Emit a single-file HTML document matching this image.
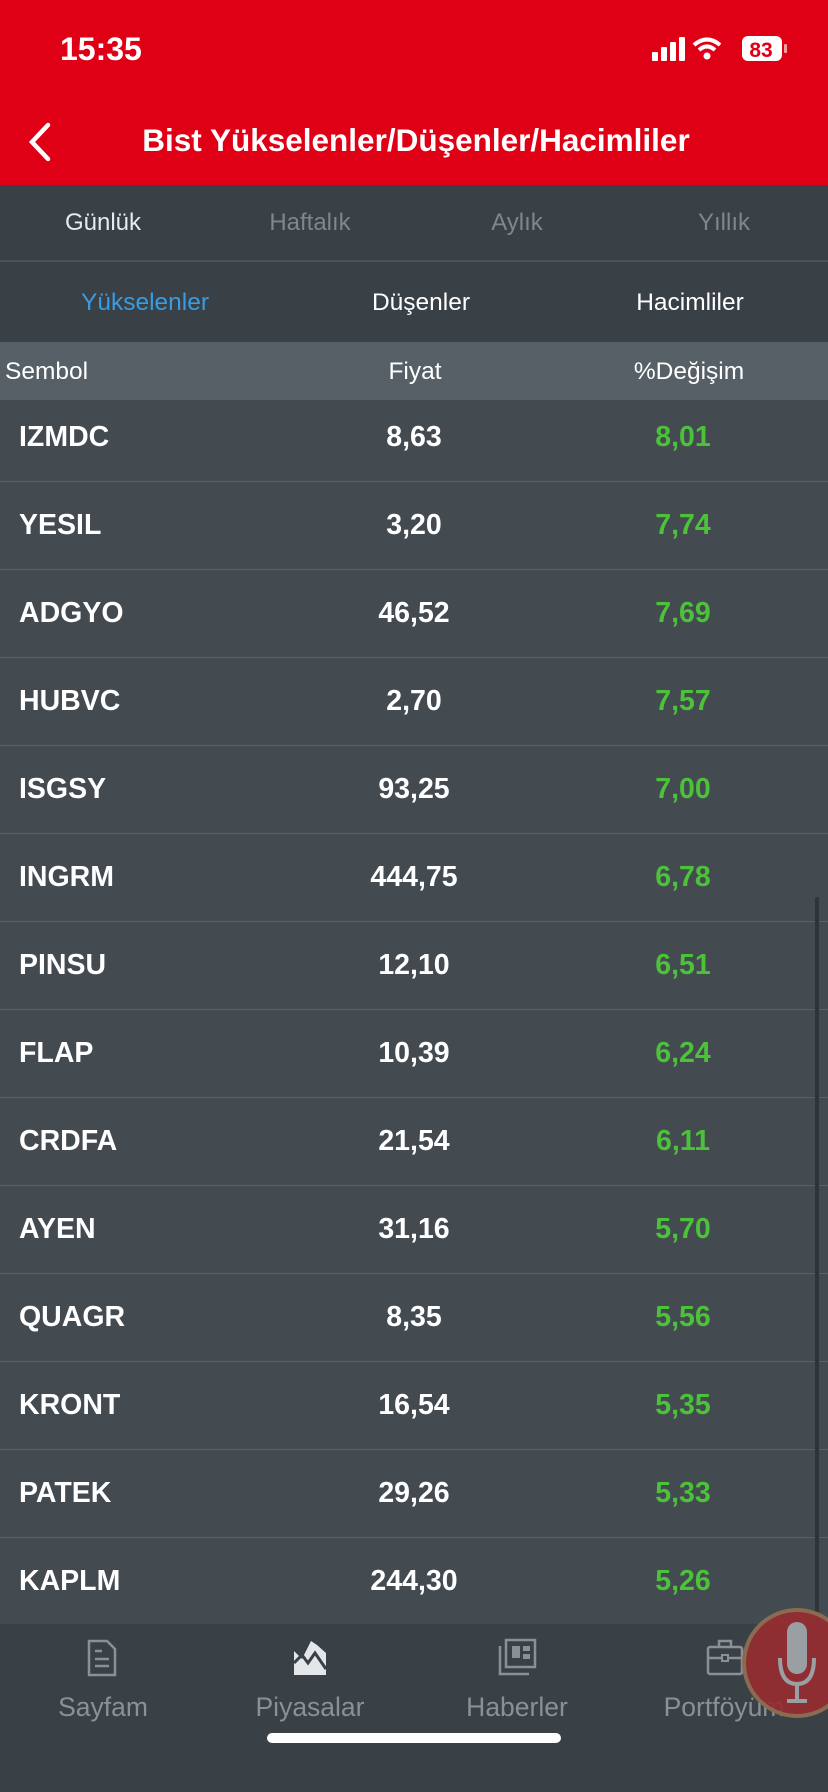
<!DOCTYPE html>
<html><head><meta charset="utf-8"><style>
*{margin:0;padding:0;box-sizing:border-box}
body{width:828px;height:1792px;overflow:hidden;background:#394046;font-family:"Liberation Sans",sans-serif;position:relative;color:#fff}
.abs{position:absolute}
.c{transform:translateX(-50%);white-space:nowrap}
</style></head><body>
<div class="abs" style="left:0;top:0;width:828px;height:185px;background:#e00016"></div>
<div class="abs" style="left:60px;top:31px;font-size:32px;font-weight:bold">15:35</div>
<svg class="abs" style="left:650px;top:34px" width="145" height="30">
<rect x="2" y="18" width="6" height="9" rx="1" fill="#fff"/><rect x="11" y="13" width="6" height="14" rx="1" fill="#fff"/><rect x="20" y="8" width="6" height="19" rx="1" fill="#fff"/><rect x="29" y="3" width="6" height="24" rx="1" fill="#fff"/>
<path d="M44 11 Q57 0 70 11" stroke="#fff" stroke-width="4" fill="none"/><path d="M49 16 Q57 9 65 16" stroke="#fff" stroke-width="4" fill="none"/><circle cx="57" cy="22" r="3.5" fill="#fff"/>
<rect x="92" y="2" width="40" height="25" rx="6" fill="#fff"/><rect x="134" y="10" width="3" height="9" rx="1" fill="#f0a0a0"/>
<text x="111" y="23" font-family="Liberation Sans" font-size="21" font-weight="bold" fill="#e00016" text-anchor="middle">83</text></svg>
<svg class="abs" style="left:24px;top:122px" width="30" height="40"><path d="M24 3 L8 20 L24 37" stroke="#fff" stroke-width="4.5" fill="none" stroke-linecap="round"/></svg>
<div class="abs c" style="left:416px;top:122px;font-size:31.5px;font-weight:bold">Bist Yükselenler/Düşenler/Hacimliler</div>

<div class="abs" style="left:0;top:185px;width:828px;height:77px;background:#394046;border-bottom:2px solid #4b545a"></div>
<div class="abs c" style="left:103px;top:209px;font-size:24px;color:#e8eaeb">Günlük</div>
<div class="abs c" style="left:310px;top:209px;font-size:24px;color:#7f878c">Haftalık</div>
<div class="abs c" style="left:517px;top:209px;font-size:24px;color:#7f878c">Aylık</div>
<div class="abs c" style="left:724px;top:209px;font-size:24px;color:#7f878c">Yıllık</div>

<div class="abs c" style="left:145px;top:289px;font-size:24.5px;color:#3a9be0">Yükselenler</div>
<div class="abs c" style="left:421px;top:289px;font-size:24.5px;color:#fff">Düşenler</div>
<div class="abs c" style="left:690px;top:289px;font-size:24.5px;color:#fff">Hacimliler</div>

<div class="abs" style="left:0;top:342px;width:828px;height:58px;background:#566066"></div>
<div class="abs" style="left:5px;top:358px;font-size:24.5px">Sembol</div>
<div class="abs c" style="left:415px;top:358px;font-size:24.5px">Fiyat</div>
<div class="abs c" style="left:689px;top:358px;font-size:24.5px">%Değişim</div>

<div class="abs" id="rows" style="left:0;top:400px;width:828px;height:1224px;background:#434a50"></div>
<div class="abs" style="left:815px;top:897px;width:4px;height:725px;border-radius:2px;background:#2e3438"></div>

<div class="abs" style="left:0;top:1624px;width:828px;height:168px;background:#394046"></div>
<svg class="abs" style="left:86px;top:1639px" width="32" height="38"><path d="M3 2 H21 L29 10 V36 H3 Z" stroke="#8a9196" stroke-width="2.5" fill="none"/><path d="M9 12H16M9 20H23M9 27H23" stroke="#8a9196" stroke-width="2.5"/></svg>
<svg class="abs" style="left:293px;top:1639px" width="34" height="36"><path d="M1 36 V12 L9 20 L18 2 L24 6 L33 14 V36 Z" fill="#e4e7e9"/><path d="M1 24 L9 16 L15 24 L22 14 L33 30" stroke="#394046" stroke-width="3" fill="none"/></svg>
<svg class="abs" style="left:498px;top:1638px" width="40" height="38"><rect x="8" y="2" width="29" height="27" stroke="#8a9196" stroke-width="2.5" fill="none"/><path d="M2 8 V36 H31" stroke="#8a9196" stroke-width="2.5" fill="none"/><rect x="14" y="8" width="8" height="12" fill="#8a9196"/><rect x="25" y="8" width="7" height="5" fill="#8a9196"/><rect x="25" y="16" width="7" height="5" fill="#8a9196"/></svg>
<svg class="abs" style="left:706px;top:1638px" width="38" height="38"><rect x="2" y="9" width="34" height="27" rx="2" stroke="#8a9196" stroke-width="2.5" fill="none"/><path d="M13 9V3H25V9M2 20H36" stroke="#8a9196" stroke-width="2.5" fill="none"/><rect x="16" y="17" width="6" height="6" fill="#394046" stroke="#8a9196" stroke-width="2"/></svg>
<div class="abs c" style="left:103px;top:1692px;font-size:26.5px;color:#8a9196">Sayfam</div>
<div class="abs c" style="left:310px;top:1692px;font-size:26.5px;color:#8a9196">Piyasalar</div>
<div class="abs c" style="left:517px;top:1692px;font-size:26.5px;color:#8a9196">Haberler</div>
<div class="abs c" style="left:724px;top:1692px;font-size:26.5px;color:#8a9196">Portföyüm</div>
<div class="abs" style="left:742px;top:1608px;width:110px;height:110px;border-radius:50%;background:rgba(150,45,50,0.92);border:4px solid #8a6a50"></div>
<svg class="abs" style="left:776px;top:1620px" width="44" height="90"><rect x="11" y="2" width="20" height="52" rx="10" fill="#9a9fa3"/><path d="M4 38 Q4 64 21 64 Q38 64 38 38" stroke="#9a9fa3" stroke-width="4" fill="none"/><path d="M21 64V80M11 81H31" stroke="#9a9fa3" stroke-width="4"/></svg>
<div class="abs" style="left:267px;top:1733px;width:294px;height:10px;border-radius:5px;background:#fff"></div>

<script>
const symbols=["IZMDC","YESIL","ADGYO","HUBVC","ISGSY","INGRM","PINSU","FLAP","CRDFA","AYEN","QUAGR","KRONT","PATEK","KAPLM"];
const prices=["8,63","3,20","46,52","2,70","93,25","444,75","12,10","10,39","21,54","31,16","8,35","16,54","29,26","244,30"];
const changes=["8,01","7,74","7,69","7,57","7,00","6,78","6,51","6,24","6,11","5,70","5,56","5,35","5,33","5,26"];
const list=document.getElementById('rows');
symbols.forEach((s,i)=>{
  const cy=38+88*i;
  const row=document.createElement('div');
  
  
  row.style.cssText='position:absolute;left:0;top:'+(cy-44)+'px;width:828px;height:88px;'+(i<symbols.length-1?'border-bottom:1px solid #5a6268;':'');
  list.appendChild(row);
  const mk=(txt,css)=>{const d=document.createElement('div');d.textContent=txt;d.style.cssText='position:absolute;top:'+(cy-17)+'px;font-size:28.5px;font-weight:bold;white-space:nowrap;'+css;list.appendChild(d);return d;};
  const a=mk(s,'left:19px;color:#fff');
  
  
  const b=mk(prices[i],'left:414px;transform:translateX(-50%);color:#fff');
  
  
  const c=mk(changes[i],'left:683px;transform:translateX(-50%);color:#4cc23a');
  
  
});
</script>
</body></html>
